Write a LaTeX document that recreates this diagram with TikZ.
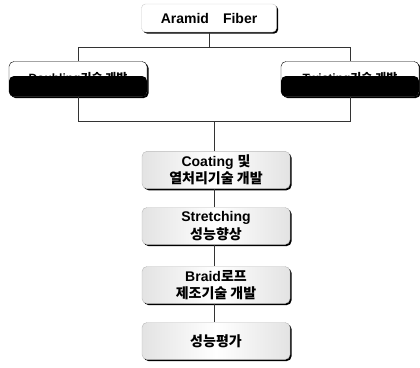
\documentclass[tikz,border=0pt]{standalone}
\usepackage{fontspec}
\setmainfont{Liberation Sans}
\newfontfamily\kr{Noto Sans CJK KR}
\usetikzlibrary{shadows}
\begin{document}
\begin{tikzpicture}[x=1pt,y=-1pt,
  conn/.style={draw=black!80, line width=0.6pt},
  shad/.style={drop shadow={shadow xshift=1.6pt, shadow yshift=-1.6pt, fill=black, opacity=1}},
  topbox/.style={rounded corners=4pt, draw=gray!40, fill=white, shad,
    minimum width=135pt, minimum height=28pt, font=\bfseries\fontsize{14}{16}\selectfont},
  darkbox/.style={rounded corners=5pt, draw=black, fill=white, shad,
    minimum width=138pt, minimum height=35pt, font=\bfseries\fontsize{12}{14}\selectfont,
    path picture={\fill[black] ([yshift=3pt]path picture bounding box.west) rectangle (path picture bounding box.south east);}},
  stepbox/.style={rounded corners=5pt, draw=gray!55, shad,
    left color=gray!22, right color=gray!22, middle color=white,
    minimum width=148pt, minimum height=37pt, align=center,
    font=\bfseries\fontsize{14}{17.5}\selectfont}]
\useasboundingbox (0,0) rectangle (420,367);
\node[topbox] (af) at (209,18) {Aramid\hspace{14pt}Fiber};
\node[darkbox] (l) at (78,79) {Doubling{\kr 기술 개발}};
\node[darkbox] (r) at (350,79) {Twisting{\kr 기술 개발}};
\coordinate (j1) at (209,47);
\coordinate (j2) at (214,121);
\node[stepbox] (s1) at (216,170) {Coating {\kr 및}\\{\kr 열처리기술 개발}};
\node[stepbox] (s2) at (216,226) {Stretching\\{\kr 성능향상}};
\node[stepbox] (s3) at (216,285) {Braid{\kr 로프}\\{\kr 제조기술 개발}};
\node[stepbox] (s4) at (216,341) {{\kr 성능평가}};
\draw[conn] (af.south) -- (j1);
\draw[conn] (j1) -| (l.north);
\draw[conn] (j1) -| (r.north);
\draw[conn] (l.south) |- (j2);
\draw[conn] (r.south) |- (j2);
\draw[conn] (j2) -- (j2 |- s1.north);
\draw[conn] (s1.south -| j2) -- (s2.north -| j2);
\draw[conn] (s2.south -| j2) -- (s3.north -| j2);
\draw[conn] (s3.south -| j2) -- (s4.north -| j2);
\end{tikzpicture}
\end{document}
